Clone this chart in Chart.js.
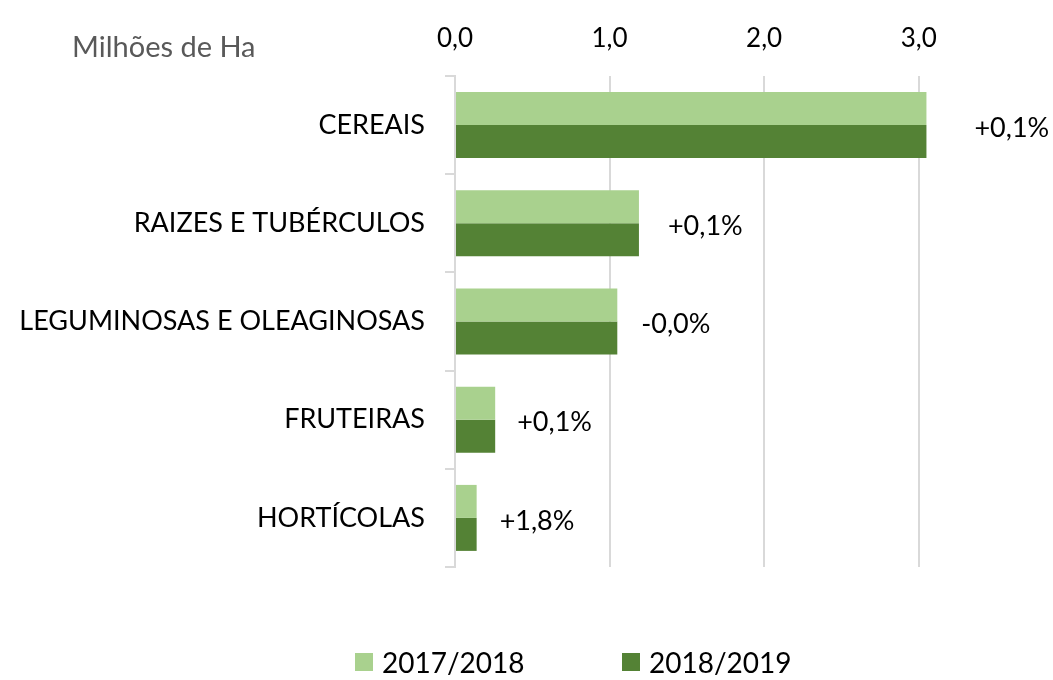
<!DOCTYPE html>
<html>
<head>
<meta charset="utf-8">
<script src="https://cdn.jsdelivr.net/npm/chart.js@4/dist/chart.umd.min.js"></script>
<style>
  html, body { margin: 0; padding: 0; background: #ffffff; }
  #wrap { position: relative; width: 1053px; height: 680px; font-family: Lato, "Noto Sans", sans-serif; }
  #unit { position: absolute; left: 72px; top: 28px; font-size: 29px; color: #595959; }
  #legend { position: absolute; left: 355px; top: 645px; font-size: 28px; color: #000; white-space: nowrap; }
  #legend span.item { position: absolute; top: 0; display: inline-flex; align-items: center; }
  #legend span.box { display: inline-block; width: 18px; height: 18px; margin-right: 9px; }
</style>
</head>
<body>
<div id="wrap">
  <canvas id="areaChart" width="1053" height="680"></canvas>
  <div id="unit">Milhões de Ha</div>
  <div id="legend"></div>
</div>
<script>
const categories = ['CEREAIS', 'RAIZES E TUBÉRCULOS', 'LEGUMINOSAS E OLEAGINOSAS', 'FRUTEIRAS', 'HORTÍCOLAS'];
const seriesNames = ['2017/2018', '2018/2019'];
const area2017 = [3.05, 1.19, 1.05, 0.26, 0.14];
const area2018 = [3.05, 1.19, 1.05, 0.26, 0.14];
const changeLabels = ['+0,1%', '+0,1%', '-0,0%', '+0,1%', '+1,8%'];
const xTicks = [0, 1, 2, 3];

const colors = ['#a9d18e', '#548235'];
const fontFamily = 'Lato, "Noto Sans", sans-serif';

document.addEventListener('DOMContentLoaded', function () {

    // legend as html
    const legendEl = document.getElementById('legend');
    seriesNames.forEach(function (name, i) {
        const item = document.createElement('span');
        item.className = 'item';
        item.style.left = (i * 267) + 'px';
        item.innerHTML = '<span class="box" style="background:' + colors[i] + '"></span>' + name;
        legendEl.appendChild(item);
    });

    // percent labels beside each bar pair
    const changeLabelPlugin = {
        id: 'changeLabels',
        afterDatasetsDraw(chart, args, opts) {
            const ctx = chart.ctx;
            const metaA = chart.getDatasetMeta(0);
            const metaB = chart.getDatasetMeta(1);
            ctx.save();
            ctx.font = '27px ' + fontFamily;
            ctx.fillStyle = '#000000';
            ctx.textAlign = 'left';
            ctx.textBaseline = 'middle';
            changeLabels.forEach(function (txt, i) {
                const end = Math.max(metaA.data[i].x, metaB.data[i].x);
                const y = chart.scales.y.getPixelForValue(i);
                ctx.fillText(txt, end + opts.offsets[i], y + 3);
            });
            ctx.restore();
        }
    };

    const ctx = document.getElementById('areaChart').getContext('2d');
    new Chart(ctx, {
        type: 'bar',
        data: {
            labels: categories,
            datasets: [{
                label: seriesNames[0],
                data: area2017,
                backgroundColor: colors[0],
                categoryPercentage: 0.672,
                barPercentage: 1.0
            }, {
                label: seriesNames[1],
                data: area2018,
                backgroundColor: colors[1],
                categoryPercentage: 0.672,
                barPercentage: 1.0
            }]
        },
        options: {
            indexAxis: 'y',
            responsive: false,
            animation: false,
            layout: {
                padding: { left: 0, right: 57, top: 0, bottom: 113 }
            },
            plugins: {
                legend: { display: false },
                tooltip: { enabled: false },
                changeLabels: { offsets: [48, 29, 24, 22, 23] }
            },
            scales: {
                x: {
                    position: 'top',
                    min: 0,
                    max: 3.5,
                    afterBuildTicks: function (scale) {
                        scale.ticks = xTicks.map(function (v) { return { value: v }; });
                    },
                    afterFit: function (scale) { scale.height = 76; },
                    ticks: {
                        padding: 22,
                        color: '#000000',
                        font: { family: fontFamily, size: 26 },
                        callback: function (v) { return Number(v).toFixed(1).replace('.', ','); }
                    },
                    grid: {
                        color: '#d9d9d9',
                        lineWidth: 2,
                        drawTicks: false
                    },
                    border: { display: false }
                },
                y: {
                    afterFit: function (scale) { scale.width = 455; },
                    ticks: {
                        padding: 20,
                        color: '#000000',
                        font: { family: fontFamily, size: 27 }
                    },
                    grid: {
                        drawOnChartArea: false,
                        color: '#d9d9d9',
                        lineWidth: 2,
                        tickLength: 10,
                        offset: true
                    },
                    border: { display: true, color: '#d9d9d9', width: 2 }
                }
            }
        },
        plugins: [changeLabelPlugin]
    });

});
</script>
</body>
</html>
